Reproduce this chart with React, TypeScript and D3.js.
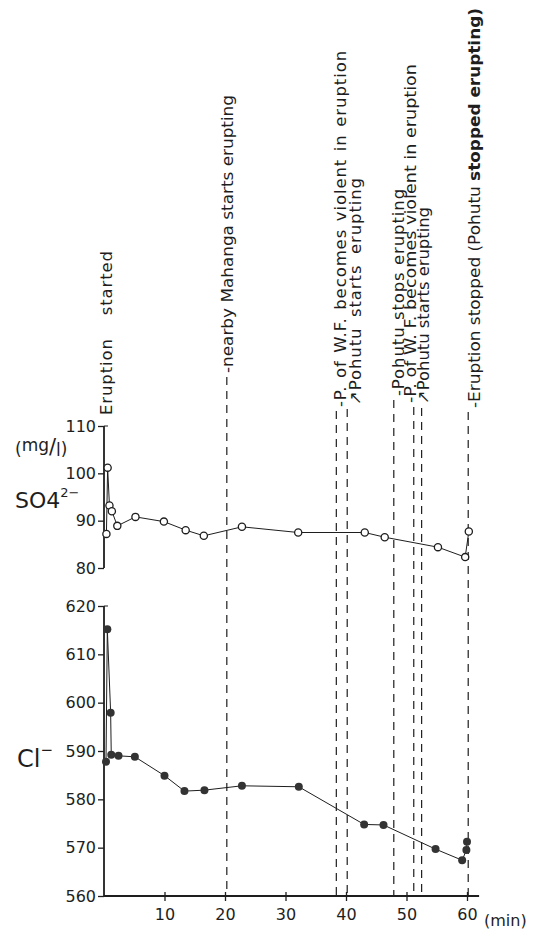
import React, { useRef, useEffect } from "react";
import * as d3 from "d3";

// sample times (min) and concentrations
const so4Time = [0.4, 0.6, 0.9, 1.3, 2.2, 5.2, 9.9, 13.5, 16.5, 22.8, 32.1, 43.1, 46.4, 55.2, 59.7, 60.3];
const so4Value = [87.2, 101.2, 93.2, 92.0, 88.9, 90.8, 89.8, 88.0, 86.8, 88.7, 87.5, 87.5, 86.5, 84.4, 82.3, 87.7];

const clTime = [0.33, 0.55, 1.1, 1.2, 2.4, 5.1, 10.0, 13.3, 16.6, 22.8, 32.2, 43.0, 46.2, 54.8, 59.2, 59.9, 60.0];
const clValue = [587.8, 615.2, 597.9, 589.2, 589.0, 588.8, 584.9, 581.7, 581.9, 582.8, 582.6, 574.8, 574.7, 569.7, 567.4, 569.5, 571.2];

const timeTicks = [10, 20, 30, 40, 50, 60];
const so4Ticks = [80, 90, 100, 110];
const clTicks = [560, 570, 580, 590, 600, 610, 620];

// events along the time axis
const eventTime = [0, 20.3, 38.4, 40.2, 47.9, 51.2, 52.5, 60.2];
const eventText = [
  "Eruption started",
  "-nearby Mahanga starts erupting",
  "-P. of W.F. becomes violent in eruption",
  "↗Pohutu starts erupting",
  "-Pohutu stops erupting",
  "-P. of W. F. becomes violent in eruption",
  "↗Pohutu starts erupting",
  "-Eruption stopped (Pohutu ",
];
// label placement: offset of text baseline from the line, bottom and top of the text
const labelDx = [8, 6, 10, 14, 10, 2, 7, 12];
const labelBottom = [415, 373, 407, 405, 396, 403, 404, 408];
const labelTop = [250, 95, 50, 177, 188, 64, 207, 8];

const W = 535;
const H = 936;
const FONT = "'DejaVu Sans', 'Liberation Sans', sans-serif";
const INK = "#1e1e1e";

const App = () => {
  const ref = useRef(null);

  useEffect(() => {
    const svg = d3.select(ref.current);
    svg.selectAll("*").remove();

    const x = d3.scaleLinear().domain([0, 60]).range([104, 467]);
    const ySo4 = d3.scaleLinear().domain([80, 110]).range([568, 426]);
    const yCl = d3.scaleLinear().domain([560, 620]).range([896, 606]);

    svg.append("rect").attr("width", W).attr("height", H).attr("fill", "#fff");

    // dashed event lines
    eventTime.forEach((t, i) => {
      if (i === 0) return;
      svg
        .append("line")
        .attr("x1", x(t))
        .attr("x2", x(t))
        .attr("y1", labelBottom[i] + 4)
        .attr("y2", yCl(560))
        .attr("stroke", INK)
        .attr("stroke-width", 1.2)
        .attr("stroke-dasharray", "8,6");
    });

    // event labels, word gaps adjusted to fill the span
    eventText.forEach((s, i) => {
      const t = svg
        .append("text")
        .attr("transform", `translate(${x(eventTime[i]) + labelDx[i]},${labelBottom[i]}) rotate(-90)`)
        .attr("font-family", FONT)
        .attr("font-size", 16.5)
        .attr("letter-spacing", 0.9)
        .attr("fill", INK);
      t.append("tspan").text(s);
      let words = s.split(" ").length - 1;
      if (i === eventText.length - 1) {
        t.append("tspan").attr("font-weight", "bold").text("stopped erupting)");
        words += 1;
      }
      const natural = t.node().getComputedTextLength();
      const target = labelBottom[i] - labelTop[i];
      if (natural > target) {
        t.attr("letter-spacing", 0).attr("textLength", target).attr("lengthAdjust", "spacingAndGlyphs");
      } else if (words > 0) {
        t.attr("word-spacing", (target - natural) / words);
      }
    });

    // SO4 panel axis
    const gS = svg.append("g").attr("transform", `translate(${x(0)},0)`);
    gS.call(d3.axisLeft(ySo4).tickValues(so4Ticks).tickSize(6).tickPadding(2));
    gS.append("line").attr("x1", 0).attr("x2", 4).attr("y1", ySo4(110)).attr("y2", ySo4(110)).attr("stroke", INK);

    // Cl panel axis
    const gC = svg.append("g").attr("transform", `translate(${x(0)},0)`);
    gC.call(d3.axisLeft(yCl).tickValues(clTicks).tickSize(6).tickPadding(2));
    gC.append("line").attr("x1", 0).attr("x2", 4).attr("y1", yCl(620)).attr("y2", yCl(620)).attr("stroke", INK);

    // time axis
    const gX = svg.append("g").attr("transform", `translate(0,${yCl(560)})`);
    gX.call(d3.axisBottom(x).tickValues(timeTicks).tickSize(5).tickPadding(8).tickSizeOuter(0));
    gX.selectAll(".tick line").attr("y1", -4);

    [gS, gC, gX].forEach((g) => {
      g.attr("font-family", FONT).attr("font-size", 16);
      g.select(".domain").attr("stroke", INK).attr("stroke-width", 1.8);
      g.selectAll(".tick line").attr("stroke", INK).attr("stroke-width", 1.3);
      g.selectAll("text").attr("fill", INK);
    });
    gS.select(".domain").attr("d", `M0,${ySo4(110)}V${ySo4(80)}`);
    gC.select(".domain").attr("d", `M0,${yCl(620)}V${yCl(560)}`);
    gX.select(".domain").attr("d", `M${x(0)},0H${x(62)}`);

    svg
      .append("text")
      .attr("x", x(60) + 17)
      .attr("y", yCl(560) + 30)
      .attr("font-family", FONT)
      .attr("font-size", 16)
      .attr("fill", INK)
      .text("(min)");

    // series lines
    const so4 = so4Time.map((t, i) => [t, so4Value[i]]);
    const cl = clTime.map((t, i) => [t, clValue[i]]);

    svg
      .append("path")
      .attr("d", d3.line().x((d) => x(d[0])).y((d) => ySo4(d[1]))(so4))
      .attr("fill", "none")
      .attr("stroke", INK)
      .attr("stroke-width", 1);
    svg
      .selectAll(".so4")
      .data(so4)
      .enter()
      .append("circle")
      .attr("cx", (d) => x(d[0]))
      .attr("cy", (d) => ySo4(d[1]))
      .attr("r", 3.6)
      .attr("fill", "#fff")
      .attr("stroke", INK)
      .attr("stroke-width", 1.3);

    svg
      .append("path")
      .attr("d", d3.line().x((d) => x(d[0])).y((d) => yCl(d[1]))(cl))
      .attr("fill", "none")
      .attr("stroke", INK)
      .attr("stroke-width", 1);
    svg
      .selectAll(".cl")
      .data(cl)
      .enter()
      .append("circle")
      .attr("cx", (d) => x(d[0]))
      .attr("cy", (d) => yCl(d[1]))
      .attr("r", 4)
      .attr("fill", "#333");

    // species labels
    const so4Label = svg
      .append("text")
      .attr("x", 15)
      .attr("y", 508)
      .attr("font-family", FONT)
      .attr("font-size", 22)
      .attr("fill", INK);
    so4Label.append("tspan").text("SO4");
    so4Label.append("tspan").attr("dy", -11).attr("font-size", 13).text("2−");

    const unit = svg
      .append("text")
      .attr("x", 15)
      .attr("y", 455)
      .attr("font-family", FONT)
      .attr("font-size", 17)
      .attr("fill", INK);
    unit.append("tspan").text("(");
    unit.append("tspan").attr("dy", -4).text("mg");
    unit.append("tspan").attr("dy", 3).attr("font-size", 21).text("/");
    unit.append("tspan").attr("dy", 2).text("l");
    unit.append("tspan").attr("dy", -1).text(")");

    const clLabel = svg
      .append("text")
      .attr("x", 17)
      .attr("y", 767)
      .attr("font-family", FONT)
      .attr("font-size", 24)
      .attr("fill", INK);
    clLabel.append("tspan").text("Cl");
    clLabel.append("tspan").attr("dy", -12).attr("font-size", 15).text("−");
  }, []);

  return (
    <svg ref={ref} width={W} height={H} style={{ position: "absolute", left: 0, top: 0 }}></svg>
  );
};

export default App;
